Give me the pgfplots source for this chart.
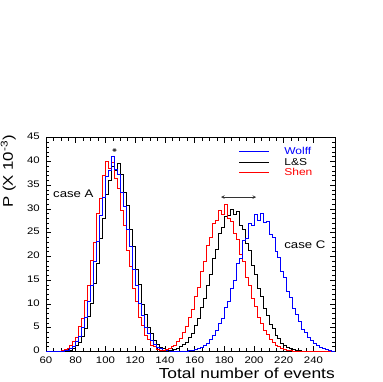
\documentclass[border=0pt]{standalone}
\usepackage{fontspec}
\setmainfont{Liberation Sans}[FakeStretch=1.2]
\usepackage{pgfplots}
\pgfplotsset{compat=1.18}
\begin{document}
\begin{tikzpicture}
\path[use as bounding box] (-46pt,-30.5pt) rectangle (336pt,351.5pt);
\begin{axis}[
  name=main,
  scale only axis, width=289pt, height=213.8pt,
  at={(0,0)}, anchor=south west,
  xmin=60, xmax=254.5, ymin=0, ymax=45,
  xtick={60,80,...,240}, ytick={0,5,...,45},
  minor x tick num=3, minor y tick num=4,
  tick align=inside, major tick length=5pt, minor tick length=3pt,
  axis line style={line width=0.7pt},
  every tick/.style={black, line width=0.6pt},
  tick label style={font=\fontsize{9.5}{11}\selectfont},
  /pgf/number format/assume math mode=true,
  xticklabel style={inner sep=0pt, anchor=north, yshift=-5.5pt},
  yticklabel style={inner sep=0pt, anchor=east, xshift=-6pt, yshift=1pt},
  xlabel={Total number of events},
  every axis x label/.style={at={(axis description cs:1,0)}, anchor=base east, inner sep=0pt, yshift=-26.5pt, font=\fontsize{14.5}{16}\selectfont},
  every axis plot/.append style={line width=0.6pt},
]
% ---- case A ----
\addplot[black, const plot, forget plot] coordinates {
(60,0) (72,0.1) (74,0.2) (76,0.35) (78,0.65) (80,1.2) (82,2.0) (84,3.3) (86,4.8) (88,7.4)
(90,10.2) (92,14.4) (94,18.5) (96,23.8) (98,28.0) (100,33.0) (102,36.0) (104,38.9) (106,38.2) (108,39.6)
(110,37.3) (112,33.6) (114,30.8) (116,25.7) (118,22.2) (120,17.2) (122,14.1) (124,10.0) (126,7.8) (128,5.1)
(130,3.9) (132,2.3) (134,1.6) (136,0.9) (138,0.6) (140,0.3) (142,0.2) (144,0.1) (146,0) (160,0)
};
\addplot[red, const plot, forget plot] coordinates {
(60,0) (68,0.05) (70,0.19) (72,0.4) (74,0.7) (76,1.3) (78,2.1) (80,3.0) (82,5.2) (84,7.0) (86,10.8)
(88,13.9) (90,19.2) (92,23.0) (94,29.1) (96,32.2) (98,37.0) (100,40.1) (102,38.6) (104,39.8) (106,36.5)
(108,34.4) (110,29.8) (112,26.5) (114,21.2) (116,18.0) (118,13.3) (120,10.6) (122,7.2) (124,5.5) (126,3.5)
(128,2.5) (130,1.4) (132,1.0) (134,0.5) (136,0.35) (138,0.15) (140,0.1) (142,0) (150,0)
};
\addplot[blue, const plot, forget plot] coordinates {
(60,0) (70,0.1) (72,0.2) (74,0.35) (76,0.7) (78,1.1) (80,2.1) (82,3.1) (84,5.0) (86,7.1) (88,10.6)
(90,14.0) (92,18.9) (94,23.2) (96,28.6) (98,32.4) (100,36.8) (102,38.2) (104,41.0) (106,38.4) (108,37.4)
(110,33.6) (112,30.6) (114,25.8) (116,22.1) (118,17.3) (120,14.0) (122,10.1) (124,7.7) (126,5.1) (128,3.8)
(130,2.3) (132,1.6) (134,0.9) (136,0.6) (138,0.3) (140,0.2) (142,0.1) (144,0) (150,0)
};
% ---- case C ----
\addplot[black, const plot, forget plot] coordinates {
(140,0) (142,0.16) (144,0.26) (146,0.4) (148,0.6) (150,1.0) (152,1.5) (154,2.0) (156,3.0) (158,3.9)
(160,5.5) (162,7.0) (164,9.2) (166,11.1) (168,14.0) (170,16.3) (172,19.6) (174,21.6) (176,24.8) (178,26.2)
(180,28.5) (182,28.7) (184,29.9) (186,28.8) (188,29.6) (190,26.6) (192,25.7) (194,22.8) (196,21.3) (198,18.1)
(200,16.3) (202,13.4) (204,11.7) (206,9.0) (208,7.7) (210,5.7) (212,4.8) (214,3.4) (216,2.7) (218,1.8)
(220,1.4) (222,0.9) (224,0.7) (226,0.4) (228,0.3) (230,0.2) (232,0.1) (234,0) (254.5,0)
};
\addplot[red, const plot, forget plot] coordinates {
(136,0.16) (138,0.26) (140,0.4) (142,0.6) (144,1.0) (146,1.4) (148,2.2) (150,2.8) (152,4.1) (154,5.3)
(156,7.3) (158,8.8) (160,11.6) (162,13.5) (164,16.9) (166,19.0) (168,22.3) (170,24.0) (172,27.0) (174,27.7)
(176,29.8) (178,28.9) (180,31.0) (182,28.0) (184,27.5) (186,24.8) (188,23.6) (190,20.4) (192,18.9) (194,15.6)
(196,14.0) (198,11.1) (200,9.5) (202,7.3) (204,6.0) (206,4.5) (208,3.6) (210,2.5) (212,1.9) (214,1.3)
(216,1.0) (218,0.6) (220,0.45) (222,0.3) (224,0.2) (226,0.1) (228,0) (254.5,0)
};
\addplot[blue, const plot, forget plot] coordinates {
(144,0) (156,0.2) (158,0.3) (160,0.4) (162,0.6) (164,0.9) (166,1.3) (168,1.8) (170,2.5) (172,3.4) (174,4.4)
(176,5.9) (178,6.9) (180,9.3) (182,10.6) (184,13.2) (186,15.0) (188,18.6) (190,19.6) (192,23.3) (194,23.8)
(196,26.9) (198,26.5) (200,28.9) (202,27.6) (204,29.0) (206,27.2) (208,27.4) (210,24.6) (212,24.1) (214,21.0)
(216,19.9) (218,16.8) (220,15.6) (222,12.7) (224,11.4) (226,9.0) (228,7.9) (230,6.4) (232,4.6) (234,4.0)
(236,3.0) (238,2.3) (240,1.7) (242,1.25) (244,0.9) (246,0.65) (248,0.45) (250,0.3) (252,0) (254.5,0)
};
% ---- legend ----
\addplot[blue, forget plot] coordinates {(190.0,42.2) (210.2,42.2)};
\addplot[black, forget plot] coordinates {(190.0,39.8) (210.2,39.8)};
\addplot[red, forget plot] coordinates {(190.0,37.7) (210.2,37.7)};
\node[anchor=west, inner sep=0pt, text=blue, font=\fontsize{10}{12}\selectfont] at (axis cs:220.3,42.2) {Wolff};
\node[anchor=west, inner sep=0pt, text=black, font=\fontsize{10}{12}\selectfont] at (axis cs:220.3,39.8) {L\&S};
\node[anchor=west, inner sep=0pt, text=red, font=\fontsize{10}{12}\selectfont] at (axis cs:220.3,37.7) {Shen};
% ---- annotations ----
\draw[<->, >=stealth, black!80, line width=0.6pt] (axis cs:104.4,42.4) -- (axis cs:107.8,42.4);
\draw[<->, >=stealth, black!80, line width=0.6pt] (axis cs:177.8,32.5) -- (axis cs:201.4,32.5);
\node[anchor=west, inner sep=0pt, font=\fontsize{11}{13}\selectfont] at (axis cs:64.7,33.1) {case A};
\node[anchor=west, inner sep=0pt, font=\fontsize{11}{13}\selectfont] at (axis cs:220.3,22.5) {case C};
\end{axis}
\node[rotate=90, anchor=south east, inner sep=0pt, font=\fontsize{14}{16}\selectfont] at ([xshift=-30pt,yshift=2.7pt]main.north west) {P (X 10\textsuperscript{-3})};
\end{tikzpicture}
\end{document}
